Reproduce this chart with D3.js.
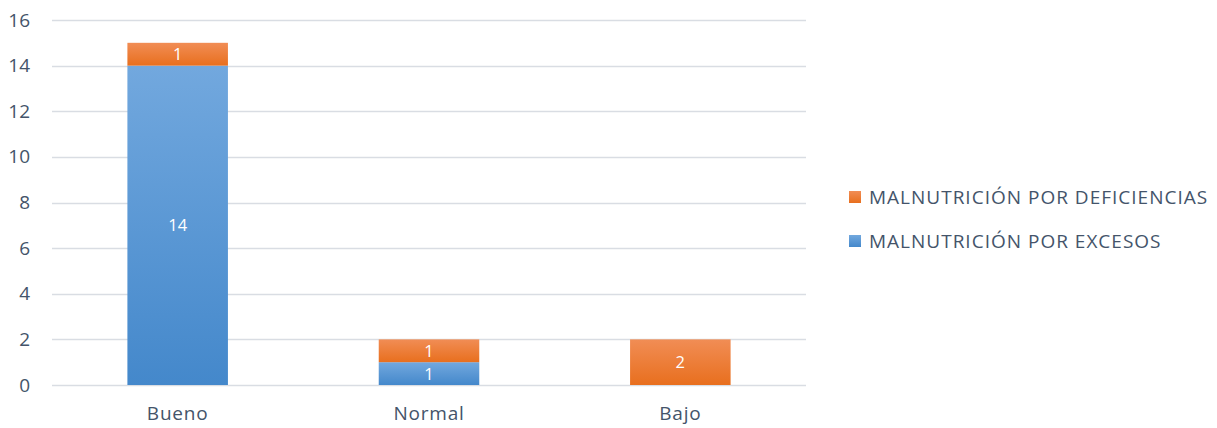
<!DOCTYPE html>
<html>
<head>
<meta charset="utf-8">
<script src="https://cdn.jsdelivr.net/npm/d3@7"></script>
<style>
  html, body { margin: 0; padding: 0; background: #fff; }
  svg { display: block; font-family: "Open Sans", "Noto Sans", sans-serif; }
</style>
</head>
<body>
<svg id="chart" width="1217" height="428"></svg>
<script>
// Categories and stacked series
const categories = ["Bueno", "Normal", "Bajo"];
const excesos = [14, 1, 0];
const deficiencias = [1, 1, 2];
const yTicks = [0, 2, 4, 6, 8, 10, 12, 14, 16];
const seriesNames = ["MALNUTRICIÓN POR EXCESOS", "MALNUTRICIÓN POR DEFICIENCIAS"];

const svg = d3.select("#chart");
const margin = { left: 52, right: 411, top: 20, bottom: 43 };
const W = 1217, H = 428;
const FONT = "19px";

const x = d3.scaleBand()
  .domain(categories)
  .range([margin.left, W - margin.right])
  .paddingInner(0.6)
  .paddingOuter(0.3);

const y = d3.scaleLinear()
  .domain([0, 16])
  .range([H - margin.bottom, margin.top]);

// Gradients for the two series
const defs = svg.append("defs");
function grad(id, top, bottom) {
  const g = defs.append("linearGradient").attr("id", id)
    .attr("x1", 0).attr("y1", 0).attr("x2", 0).attr("y2", 1);
  g.append("stop").attr("offset", "0%").attr("stop-color", top);
  g.append("stop").attr("offset", "100%").attr("stop-color", bottom);
}
grad("gBlue", "#72a8de", "#4488cb");
grad("gOrange", "#f18d55", "#e86f1e");
const fills = ["url(#gBlue)", "url(#gOrange)"];

// Grid lines
svg.append("g")
  .selectAll("line")
  .data(yTicks)
  .join("line")
  .attr("x1", margin.left)
  .attr("x2", W - margin.right)
  .attr("y1", d => Math.round(y(d)) + 0.5)
  .attr("y2", d => Math.round(y(d)) + 0.5)
  .attr("stroke", "#d9dde3")
  .attr("stroke-width", 1.5);

// Y axis labels
const yAxis = d3.axisLeft(y).tickValues(yTicks).tickSize(0).tickPadding(0);
svg.append("g")
  .attr("transform", `translate(${margin.left - 22},0)`)
  .call(yAxis)
  .call(g => g.select(".domain").remove())
  .call(g => g.selectAll("text")
    .attr("fill", "#44546a")
    .attr("font-size", FONT)
    .attr("font-family", "'Open Sans', sans-serif"));

// X axis labels
const xAxis = d3.axisBottom(x).tickSize(0).tickPadding(0);
svg.append("g")
  .attr("transform", `translate(0,${y(0) + 21})`)
  .call(xAxis)
  .call(g => g.select(".domain").remove())
  .call(g => g.selectAll("text")
    .attr("fill", "#44546a")
    .attr("font-size", FONT)
    .attr("letter-spacing", "0.8px")
    .attr("font-family", "'Open Sans', sans-serif"));

// Stacked data
const rows = categories.map((c, i) => ({ cat: c, exc: excesos[i], def: deficiencias[i] }));
const stack = d3.stack().keys(["exc", "def"])(rows);

const layers = svg.append("g")
  .selectAll("g")
  .data(stack)
  .join("g")
  .attr("fill", (d, i) => fills[i]);

layers.selectAll("rect")
  .data(d => d.filter(s => s[1] - s[0] > 0))
  .join("rect")
  .attr("x", d => x(d.data.cat))
  .attr("width", x.bandwidth())
  .attr("y", d => y(d[1]))
  .attr("height", d => y(d[0]) - y(d[1]));

// Value labels centred in each segment
layers.selectAll("text")
  .data(d => d.filter(s => s[1] - s[0] > 0))
  .join("text")
  .attr("x", d => x(d.data.cat) + x.bandwidth() / 2)
  .attr("y", d => (y(d[0]) + y(d[1])) / 2)
  .attr("dy", "0.36em")
  .attr("text-anchor", "middle")
  .attr("fill", "#ffffff")
  .attr("font-size", "16.5px")
  .text(d => d[1] - d[0]);

// Legend (deficiencias listed first)
const legendItems = [1, 0];
const legend = svg.append("g").attr("transform", "translate(849,0)");
legendItems.forEach((si, k) => {
  const cy = 197 + k * 44;
  legend.append("rect")
    .attr("x", 0).attr("y", cy - 6)
    .attr("width", 12).attr("height", 12)
    .attr("fill", fills[si]);
  legend.append("text")
    .attr("x", 20).attr("y", cy)
    .attr("dy", "0.36em")
    .attr("fill", "#44546a")
    .attr("font-size", FONT)
    .attr("letter-spacing", "1px")
    .text(seriesNames[si]);
});
</script>
</body>
</html>
